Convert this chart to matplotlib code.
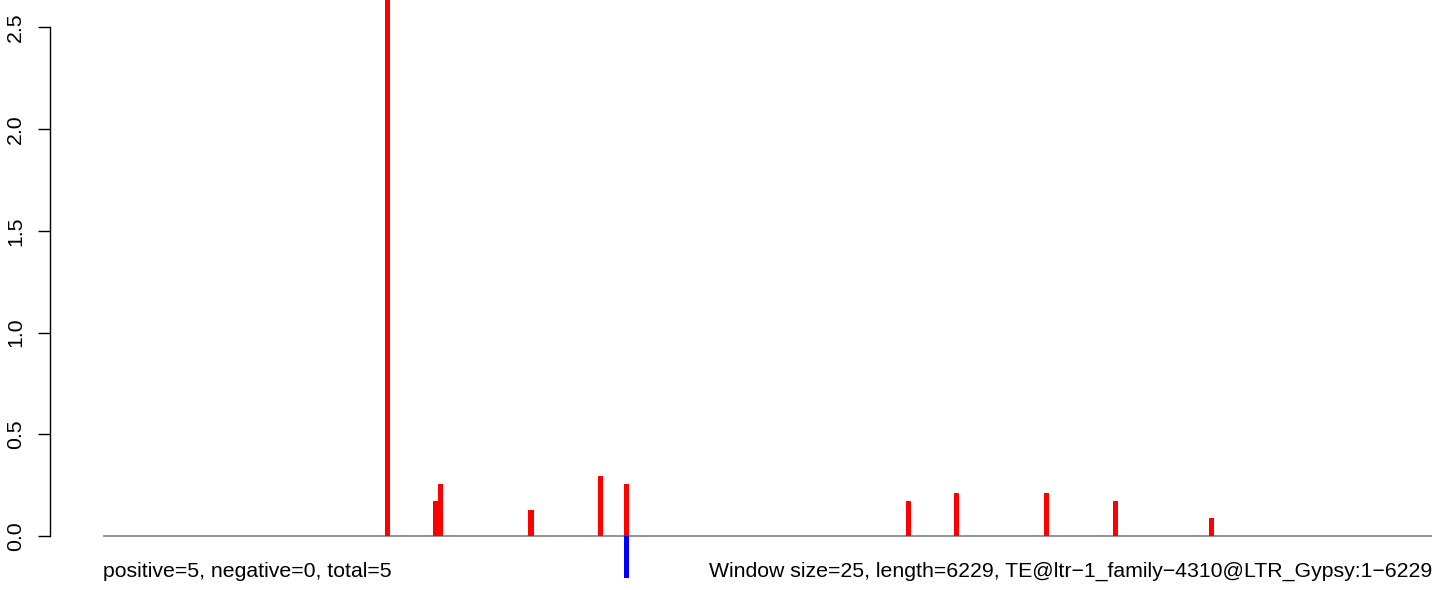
import matplotlib
matplotlib.use("Agg")
import matplotlib.pyplot as plt
from matplotlib.transforms import blended_transform_factory

plt.rcParams['font.family'] = ['Liberation Sans', 'DejaVu Sans']

# Data: window start positions (bp) and scores
window_size = 25
seq_length = 6229
pos_starts = [1325, 1550, 1575, 2000, 2325, 2450, 3775, 4000, 4425, 4750, 5200]
pos_values = [3.0, 0.172, 0.256, 0.128, 0.295, 0.256, 0.171, 0.21, 0.21, 0.171, 0.087]
neg_starts = [2450]
neg_values = [-0.207]
yticks = [0.0, 0.5, 1.0, 1.5, 2.0, 2.5]
ytick_labels = ["0.0", "0.5", "1.0", "1.5", "2.0", "2.5"]
left_text = "positive=5, negative=0, total=5"
right_text = "Window size=25, length=6229, TE@ltr\u22121_family\u22124310@LTR_Gypsy:1\u22126229"

W, H = 1444, 590
DPI = 100
fig = plt.figure(figsize=(W / DPI, H / DPI), dpi=DPI)

x0_px, x1_px = 103.3, 1432.0
y0_px = 536.0   # pixel row (from top) of y=0
ppu = 203.4     # pixels per y unit
ymin = -(H - y0_px) / ppu
ymax = y0_px / ppu

ax = fig.add_axes([x0_px / W, 0.0, (x1_px - x0_px) / W, 1.0])
n_windows = -(-seq_length // window_size)
ax.set_xlim(0, n_windows * window_size)
ax.set_ylim(ymin, ymax)
ax.patch.set_alpha(0)

ax.bar(pos_starts, pos_values, width=window_size, align='edge',
       color='#FF0000', linewidth=0, clip_on=False, zorder=3)
ax.bar(neg_starts, neg_values, width=window_size, align='edge',
       color='#0000FF', linewidth=0, clip_on=False, zorder=3)
ax.axhline(0, color='#808080', lw=1.2, zorder=2)

for s in ['top', 'right', 'bottom']:
    ax.spines[s].set_visible(False)
ax.spines['left'].set_position(('outward', (x0_px - 50.0) * 72 / DPI))
ax.spines['left'].set_bounds(0, 2.5)
ax.spines['left'].set_linewidth(1.0)
ax.set_xticks([])
ax.set_yticks(yticks)
ax.set_yticklabels(ytick_labels, rotation=90, va='center', fontsize=15.3)
ax.tick_params(axis='y', length=12 * 72 / DPI, width=1.0, pad=13 * 72 / DPI)

fs = 15.3
fig.text(x0_px / W, 13 / H, left_text, ha='left', va='baseline', fontsize=fs)
fig.text(x1_px / W, 13 / H, right_text, ha='right', va='baseline', fontsize=fs)

fig.savefig("out.png", dpi=DPI)
